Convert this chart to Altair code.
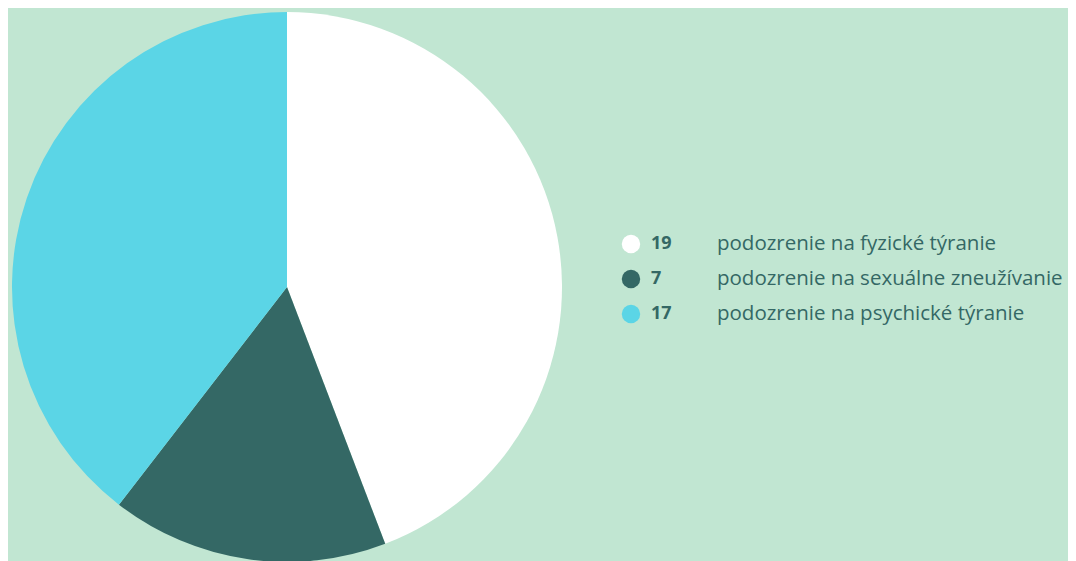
import altair as alt
import pandas as pd

categories = ["podozrenie na fyzické týranie", "podozrenie na sexuálne zneužívanie", "podozrenie na psychické týranie"]
values = [19, 7, 17]
colors = ["#ffffff", "#346865", "#5bd5e6"]

df = pd.DataFrame({"cat": categories, "value": values, "order": [0, 1, 2],
                   "num": [str(v) for v in values]})

color_scale = alt.Scale(domain=categories, range=colors)

pie = alt.Chart(df).mark_arc(radius=275).encode(
    theta=alt.Theta("value:Q", stack=True),
    color=alt.Color("cat:N", scale=color_scale, legend=None),
    order=alt.Order("order:Q"),
    x=alt.value(279),
    y=alt.value(279),
)

yenc = alt.Y("cat:N", sort=categories, axis=None,
             scale=alt.Scale(type="point", range=[236, 306], padding=0))

dots = alt.Chart(df).mark_point(filled=True, size=340, opacity=1).encode(
    x=alt.value(623), y=yenc,
    color=alt.Color("cat:N", scale=color_scale, legend=None),
)
nums = alt.Chart(df).mark_text(align="left", baseline="middle", font="Open Sans",
                               fontSize=18, fontWeight="bold", color="#346865").encode(
    x=alt.value(643), y=yenc, text="num:N")
labels = alt.Chart(df).mark_text(align="left", baseline="middle", font="Open Sans",
                                 fontSize=20.5, color="#346865").encode(
    x=alt.value(709), y=yenc, text="cat:N")

chart = alt.layer(pie, dots, nums, labels).properties(
    width=1060, height=553, background="#c1e6d2", padding=0,
    autosize=alt.AutoSizeParams(type="none")
).configure_view(stroke=None)

chart.save("out.html", embed_options={"renderer": "svg", "actions": False})
